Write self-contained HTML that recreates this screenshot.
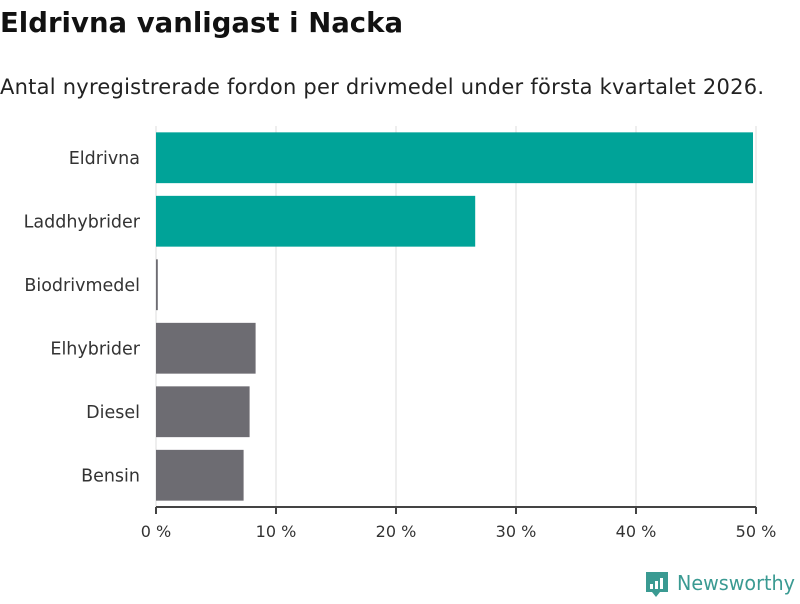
<!DOCTYPE html>
<html><head><meta charset="utf-8"><style>
body{margin:0;background:#fff;font-family:"DejaVu Sans","Liberation Sans",sans-serif;}
</style></head><body>
<svg width="800" height="600" xmlns="http://www.w3.org/2000/svg">
<text x="0" y="32" font-size="27.5" font-weight="bold" fill="#111" textLength="403">Eldrivna vanligast i Nacka</text>
<text x="0" y="94" font-size="21" fill="#222" textLength="764">Antal nyregistrerade fordon per drivmedel under första kvartalet 2026.</text>
<g id="grid"></g><g id="bars"></g><g id="ylabels"></g><g id="xaxis"></g>
<g>
<path d="M646 572 h22 v20 h-8 l-4 5 l-4 -5 h-6 z" fill="#3a9a92"/>
<rect x="650" y="584" width="3" height="5" fill="#fff"/><rect x="655" y="581" width="3" height="8" fill="#fff"/><rect x="660" y="578" width="3" height="11" fill="#fff"/>
<text x="677" y="590" font-size="20" fill="#3a9a92" textLength="118" lengthAdjust="spacingAndGlyphs">Newsworthy</text>
</g>
</svg>
<script>
const categories=["Eldrivna","Laddhybrider","Biodrivmedel","Elhybrider","Diesel","Bensin"];
const values=[49.75,26.6,0.15,8.3,7.8,7.3];
const colors=["#00a398","#00a398","#6d6c72","#6d6c72","#6d6c72","#6d6c72"];
const ticks=[0,10,20,30,40,50];
const tickLabels=["0 %","10 %","20 %","30 %","40 %","50 %"];
const NS="http://www.w3.org/2000/svg";
const x0=156,x1=756,yTop=126,yBot=507;
const xs=v=>x0+(v/50)*(x1-x0);
const band=(yBot-yTop)/categories.length;
function mk(t,a,p){const e=document.createElementNS(NS,t);for(const k in a)e.setAttribute(k,a[k]);p.appendChild(e);return e;}
const g=document.getElementById('grid'),b=document.getElementById('bars'),yl=document.getElementById('ylabels'),xa=document.getElementById('xaxis');
ticks.forEach((t,i)=>{
 const l=mk('line',{x1:xs(t),x2:xs(t),y1:yTop,y2:yBot,stroke:'#ddd','stroke-width':1},g);
 
 
 const tk=mk('line',{x1:xs(t),x2:xs(t),y1:yBot,y2:yBot+7,stroke:'#444','stroke-width':2},xa);
 
 
 const tx=mk('text',{x:xs(t),y:yBot+30,'text-anchor':'middle','font-size':16,fill:'#333'},xa);
 tx.textContent=tickLabels[i];
 
 
});
const ax=mk('line',{x1:x0,x2:x1,y1:yBot,y2:yBot,stroke:'#444','stroke-width':2},xa);


categories.forEach((c,i)=>{
 const y=yTop+i*band+band*0.1;
 const r=mk('rect',{x:x0,y:y,width:Math.max(1.5,xs(values[i])-x0),height:band*0.8,fill:colors[i]},b);
 
 
 const t=mk('text',{x:140,y:y+band*0.4+6,'text-anchor':'end','font-size':17.5,fill:'#333'},yl);
 t.textContent=c;
 
 
});
</script>
</body></html>
